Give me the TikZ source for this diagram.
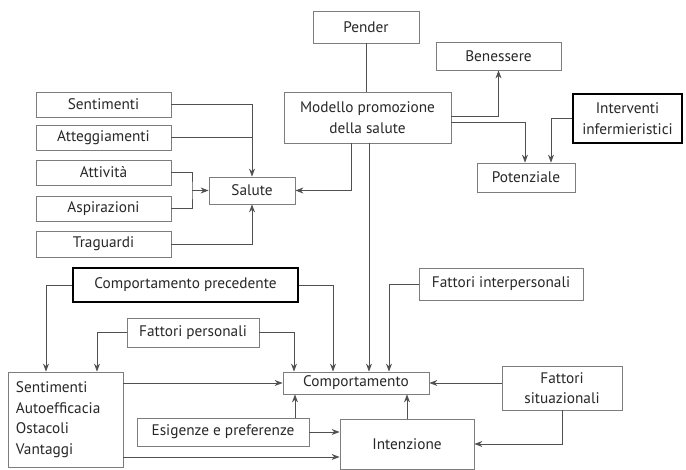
\documentclass[tikz,border=0pt]{standalone}
\usepackage{fontspec}
\setmainfont{PT Sans}
\definecolor{wire}{RGB}{80,80,80}
\definecolor{frame}{RGB}{125,125,125}
\definecolor{txt}{RGB}{40,40,40}
\usetikzlibrary{arrows.meta,positioning}

\begin{document}
\begin{tikzpicture}[x=1pt,y=-1pt,
    box/.style={draw=frame, line width=0.8pt, fill=white, text=txt,
      font=\fontsize{15.3}{20.5}\selectfont, inner sep=2pt, align=center},
    boldbox/.style={box, draw=black, line width=1.8pt},
    link/.style={wire, line width=0.9pt},
    arr/.style={link, -{Stealth[length=8pt,width=6pt]}}]
  \useasboundingbox (0,0) rectangle (686,470);

  % upper part
  \node[box, minimum width=106pt, minimum height=32pt] (pender) at (366,27) {Pender};
  \node[box, minimum width=167pt, minimum height=51pt] (modello) at (367.5,117.5) {Modello promozione\\della salute};
  \node[box, minimum width=125pt, minimum height=28pt] (benessere) at (498.5,56) {Benessere};
  \node[boldbox, minimum width=109pt, minimum height=49pt] (interventi) at (627.5,118.5) {Interventi\\infermieristici};
  \node[box, minimum width=98pt, minimum height=29pt] (potenziale) at (526,177.5) {Potenziale};

  \node[box, minimum width=135pt, minimum height=25pt] (sentimenti) at (103.5,104.5) {Sentimenti};
  \node[box, minimum width=135pt, minimum height=25pt] (atteggiamenti) at (103.5,137.5) {Atteggiamenti};
  \node[box, minimum width=135pt, minimum height=25pt] (attivita) at (103.5,172.5) {Attività};
  \node[box, minimum width=135pt, minimum height=25pt] (aspirazioni) at (103.5,208.5) {Aspirazioni};
  \node[box, minimum width=135pt, minimum height=26pt] (traguardi) at (103.5,244) {Traguardi};
  \node[box, minimum width=86pt, minimum height=27pt] (salute) at (252,190.5) {Salute};

  % lower part
  \node[boldbox, minimum width=225pt, minimum height=34pt] (precedente) at (185.5,285) {Comportamento precedente};
  \node[box, minimum width=132pt, minimum height=29pt] (personali) at (193,332.5) {Fattori personali};
  \node[box, minimum width=164pt, minimum height=32pt] (interpersonali) at (501,284) {Fattori interpersonali};
  \node[box, minimum height=95pt, text width=99pt, inner xsep=8pt, align=left] (fattori) at (65.5,419.5) {Sentimenti\\Autoefficacia\\Ostacoli\\Vantaggi};
  \node[box, minimum width=146pt, minimum height=22pt] (comportamento) at (356,383) {Comportamento};
  \node[box, minimum width=120pt, minimum height=44pt] (situazionali) at (562,388) {Fattori\\situazionali};
  \node[box, minimum width=172pt, minimum height=28pt] (esigenze) at (223,432) {Esigenze e preferenze};
  \node[box, minimum width=134pt, minimum height=50pt] (intenzione) at (407,444) {Intenzione};

  % connectors, upper part
  \draw[link] (pender.south) -- (pender.south |- modello.north);
  \draw[arr] ([yshift=1.5pt]modello.east) -| (benessere.south);
  \draw[arr] ([yshift=-4.5pt]modello.east) -| ([xshift=-1pt]potenziale.north);
  \draw[arr] (interventi.west) -| ([xshift=25pt]potenziale.north);
  \draw[arr] ([xshift=-16.5pt]modello.south) |- (salute.east);
  \draw[arr] (sentimenti.east) -| (salute.north);
  \draw[link] (atteggiamenti.east) -- (atteggiamenti.east -| salute.north);
  \coordinate (join) at (192,190.5);
  \draw[link] (attivita.east) -| (join) |- (aspirazioni.east);
  \draw[arr] (join) -- (salute.west);
  \draw[arr] (traguardi.east) -| (salute.south);

  % connectors, lower part
  \coordinate (mdown) at ([xshift=1.5pt]modello.south);
  \draw[arr] (mdown) -- (mdown |- comportamento.north);
  \draw[arr] (precedente.west) -| ([xshift=-19.5pt]fattori.north);
  \draw[arr] (precedente.east) -| ([xshift=-23pt]comportamento.north);
  \draw[arr] (personali.west) -| ([xshift=31.5pt]fattori.north);
  \draw[arr] (personali.east) -| ([xshift=-62pt]comportamento.north);
  \draw[arr] (interpersonali.west) -| ([xshift=33pt]comportamento.north);
  \draw[arr] (fattori.east |- comportamento.west) -- (comportamento.west);
  \coordinate (low) at ([yshift=-13pt]intenzione.west);
  \draw[arr] (fattori.east |- low) -- (low);
  \draw[arr] (esigenze.east) -- (esigenze.east -| intenzione.west);
  \coordinate (up) at ([xshift=72pt]esigenze.north);
  \draw[arr] (up) -- (up |- comportamento.south);
  \draw[arr] (intenzione.north) -- (intenzione.north |- comportamento.south);
  \draw[arr] (comportamento.east -| situazionali.west) -- (comportamento.east);
  \draw[arr] (situazionali.south) |- (intenzione.east);
\end{tikzpicture}
\end{document}
